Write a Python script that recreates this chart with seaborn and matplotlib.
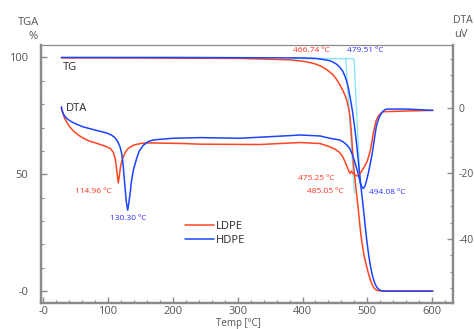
import numpy as np
import pandas as pd
import matplotlib
matplotlib.use('Agg')
import matplotlib.pyplot as plt
from matplotlib.ticker import MultipleLocator
from matplotlib.lines import Line2D
import seaborn as sns

# TG curves (left axis, %)
tg_ldpe_temp = [28, 100, 200, 300, 380, 400, 410, 420, 428, 435, 441, 447, 452, 457, 462, 466,
                469, 471, 473, 475, 477, 479, 482, 486, 488.5, 491, 495, 499, 502, 505, 508, 511,
                514, 518, 525, 560, 601]
tg_ldpe_val = [99.8, 99.8, 99.7, 99.6, 99.0, 98.4, 97.9, 97.2, 96.3, 95.2, 94.0, 92.6, 90.8, 88.6,
               86.0, 83.5, 80.8, 78.5, 75.0, 69.0, 61.0, 53.0, 45.0, 35.0, 28.0, 22.0, 15.0, 10.4,
               7.2, 4.5, 2.4, 1.1, 0.4, 0.1, 0.0, 0.0, 0.0]
tg_hdpe_temp = [28, 100, 200, 300, 400, 420, 435, 442, 447, 452, 457, 462, 466, 469, 471, 474, 477,
                480, 483, 486, 490, 494, 497, 499, 502, 504, 506, 508, 510, 512, 515, 518, 522,
                530, 560, 601]
tg_hdpe_val = [100.0, 100.0, 100.0, 99.9, 99.8, 99.6, 99.0, 98.6, 98.0, 97.2, 96.0, 94.2, 91.6,
               88.8, 86.5, 82.0, 77.0, 71.0, 64.0, 56.0, 45.0, 35.0, 27.0, 22.0, 15.5, 12.0, 9.0,
               6.5, 4.6, 3.0, 1.5, 0.6, 0.1, 0.0, 0.0, 0.0]

# DTA curves (right axis, uV)
dta_ldpe_temp = [28, 29.5, 31, 33, 36, 40, 46, 52, 57, 65, 72, 85, 98, 104, 108, 111, 113, 115.7,
                 117.5, 119, 121, 123.5, 127, 131, 139, 150, 160, 216, 242, 334, 396, 427, 442,
                 450, 457, 462, 465, 468, 470, 472, 473.5, 475.3, 477, 480, 483, 485, 488, 490,
                 494, 497, 500, 504, 507, 509, 512, 514, 517, 520, 525, 560, 601]
dta_ldpe_val = [-0.2, -1.3, -2.2, -3.2, -4.3, -5.6, -7.0, -8.0, -8.7, -9.6, -10.2, -11.0, -11.9,
                -12.5, -13.6, -15.5, -18.5, -22.9, -20.5, -18.2, -16.4, -14.9, -13.4, -12.4, -11.4,
                -10.9, -10.7, -10.9, -11.1, -11.2, -10.6, -10.9, -11.9, -12.6, -13.6, -14.9, -16.2,
                -17.6, -18.6, -19.6, -20.0, -19.3, -19.8, -20.4, -20.7, -20.8, -20.3, -19.7, -18.4,
                -17.4, -16.2, -13.5, -10.5, -8.0, -5.2, -3.7, -2.5, -1.8, -1.2, -1.0, -0.8]
dta_hdpe_temp = [28, 29, 30.5, 32, 34, 37, 42, 50, 61, 80, 98, 105, 110, 114, 117, 119, 121, 123,
                 126, 128, 130.3, 132, 134, 136, 139, 144, 148, 154, 162, 170, 200, 242, 303, 380,
                 396, 427, 442, 457, 462, 466, 470, 473, 477, 481, 484, 486, 489, 491.5, 494,
                 496.5, 499, 502, 504, 507, 509, 512, 514, 517, 519.6, 523, 527, 530, 560, 601]
dta_hdpe_val = [0.3, -0.8, -1.6, -2.2, -2.8, -3.4, -4.1, -4.9, -5.8, -6.8, -7.7, -8.3, -9.0, -10.0,
                -11.2, -12.3, -14.0, -17.0, -24.0, -28.5, -31.2, -29.0, -26.0, -22.5, -19.0, -15.5,
                -13.2, -11.5, -10.3, -9.8, -9.3, -9.1, -9.3, -8.5, -8.3, -8.6, -9.3, -9.8, -10.3,
                -10.9, -11.7, -12.5, -14.3, -16.8, -18.8, -20.2, -22.8, -24.1, -24.6, -23.8, -22.0,
                -19.5, -17.5, -14.5, -12.0, -8.0, -5.5, -3.6, -2.4, -1.3, -0.6, -0.4, -0.4, -0.8]

# onset tangent construction lines (left axis)
onset_ldpe_temp = [380, 466.74, 480]
onset_ldpe_val = [99.5, 99.5, 42.0]
onset_hdpe_temp = [400, 479.51, 489]
onset_hdpe_val = [99.5, 99.5, 45.0]

x_ticks = [0, 100, 200, 300, 400, 500, 600]
x_tick_labels = ['-0', '100', '200', '300', '400', '500', '600']
tga_ticks = [0, 50, 100]
tga_tick_labels = ['-0', '50', '100']
dta_ticks = [-40, -20, 0]
dta_tick_labels = ['-40', '-20', '0']

red = '#ff4422'
blue = '#1a44ff'
cyan = '#8ee8f4'
gray = '#8a8a8a'

sns.set_style('ticks')
plt.rcParams['font.family'] = ['Open Sans', 'DejaVu Sans']

fig = plt.figure(figsize=(4.74, 3.29), dpi=100)
ax1 = fig.add_axes([0.0865, 0.079, 0.869, 0.784])
ax2 = ax1.twinx()

sns.lineplot(x=onset_ldpe_temp, y=onset_ldpe_val, ax=ax1, color=cyan, lw=1.0, sort=False)
sns.lineplot(x=onset_hdpe_temp, y=onset_hdpe_val, ax=ax1, color=cyan, lw=1.0, sort=False)
sns.lineplot(x=tg_ldpe_temp, y=tg_ldpe_val, ax=ax1, color=red, lw=1.1)
sns.lineplot(x=tg_hdpe_temp, y=tg_hdpe_val, ax=ax1, color=blue, lw=1.1)
sns.lineplot(x=dta_ldpe_temp, y=dta_ldpe_val, ax=ax2, color=red, lw=1.1)
sns.lineplot(x=dta_hdpe_temp, y=dta_hdpe_val, ax=ax2, color=blue, lw=1.1)

ax1.set_xlim(-3.5, 632)
ax1.set_ylim(-5.1, 105.3)
ax2.set_ylim(-59.5, 19.1)

ax1.set_xticks(x_ticks)
ax1.set_xticklabels(x_tick_labels)
ax1.set_yticks(tga_ticks)
ax1.set_yticklabels(tga_tick_labels)
ax2.set_yticks(dta_ticks)
ax2.set_yticklabels(dta_tick_labels)
ax1.xaxis.set_minor_locator(MultipleLocator(20))
ax1.yaxis.set_minor_locator(MultipleLocator(10))
ax2.yaxis.set_minor_locator(MultipleLocator(5))

for ax in (ax1, ax2):
    ax.set_xlabel('')
    ax.set_ylabel('')
    for side in ('left', 'right', 'bottom'):
        ax.spines[side].set_visible(True)
        ax.spines[side].set_color(gray)
        ax.spines[side].set_linewidth(1.6)
    ax.spines['top'].set_visible(True)
    ax.spines['top'].set_color(gray)
    ax.spines['top'].set_linewidth(0.8)

ax1.tick_params(axis='x', which='major', direction='in', length=4, width=1, color=gray,
                labelsize=8, labelcolor='#555555', pad=2)
ax1.tick_params(axis='x', which='minor', direction='in', length=2, width=0.8, color=gray)
ax1.tick_params(axis='y', which='major', direction='in', length=4, width=1, color=gray,
                labelsize=8, labelcolor='#555555', pad=9)
ax1.tick_params(axis='y', which='minor', direction='in', length=2, width=0.8, color=gray)
ax2.tick_params(axis='y', which='major', direction='in', length=4, width=1, color=gray,
                labelsize=7.5, labelcolor='#555555', pad=4)
ax2.tick_params(axis='y', which='minor', direction='in', length=2, width=0.8, color=gray)

# annotations
ann = dict(fontsize=6, ha='center', va='center')
ax1.text(414, 103.1, '466.74 ºC', color='#ff3322', **ann)
ax1.text(496.5, 103.1, '479.51 ºC', color='#3333ff', **ann)
ax2.text(77.2, -25.4, '114.96 ºC', color='#ff3322', **ann)
ax2.text(131.6, -33.9, '130.30 ºC', color='#3333ff', **ann)
ax2.text(420.8, -21.5, '475.25 ºC', color='#ff3322', **ann)
ax2.text(434.8, -25.4, '485.05 ºC', color='#ff3322', **ann)
ax2.text(530, -25.8, '494.08 ºC', color='#3333ff', **ann)
ax1.text(30.9, 95.5, 'TG', fontsize=8, ha='left', va='center')
ax1.text(35, 78.2, 'DTA', fontsize=8, ha='left', va='center')

handles = [Line2D([], [], color=red, lw=1.1), Line2D([], [], color=blue, lw=1.1)]
ax2.legend(handles, ['LDPE', 'HDPE'], loc='center left', bbox_to_anchor=(0.325, 0.27),
           frameon=False, fontsize=8, handlelength=2.6, handletextpad=0.15, labelspacing=0.25)

fig.text(0.059, 0.933, 'TGA', fontsize=8, color='#555555', ha='center', va='center')
fig.text(0.069, 0.888, '%', fontsize=8, color='#555555', ha='center', va='center')
fig.text(0.956, 0.937, 'DTA', fontsize=7.5, color='#555555', ha='left', va='center')
fig.text(0.958, 0.894, 'uV', fontsize=8, color='#555555', ha='left', va='center')
fig.text(0.504, 0.0, 'Temp [ºC]', fontsize=7, color='#555555', ha='center', va='bottom')

fig.savefig('out.png', dpi=100)
